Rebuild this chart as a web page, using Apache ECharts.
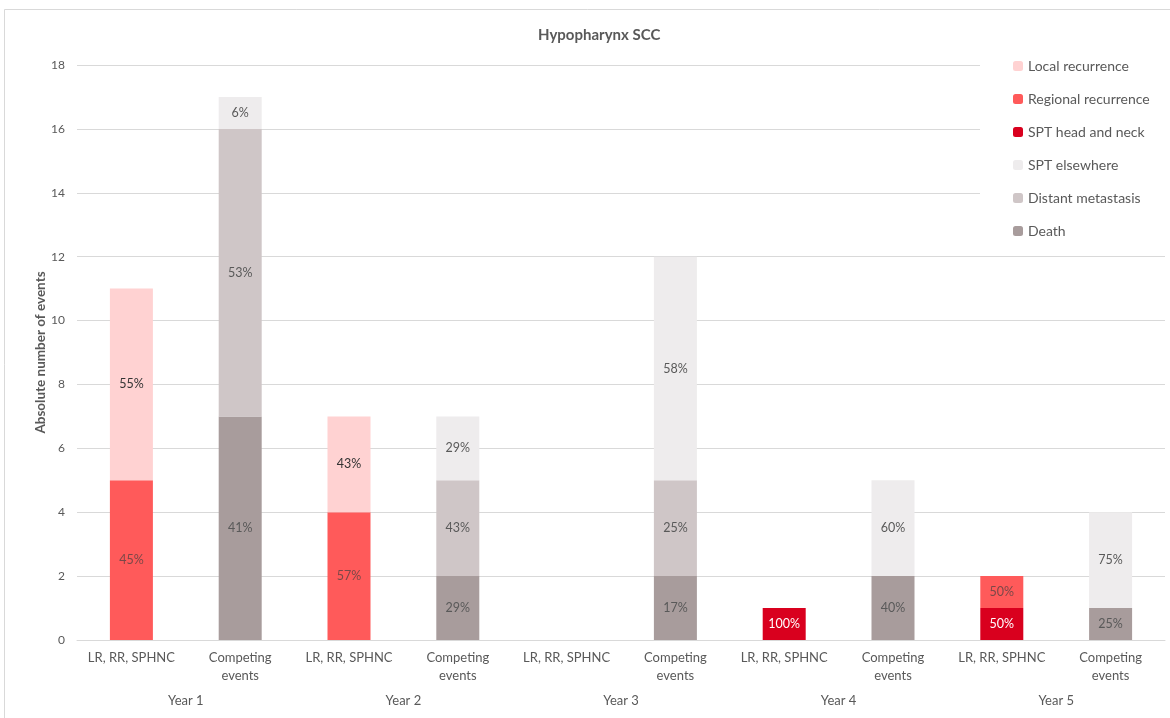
<!DOCTYPE html>
<html>
<head>
<meta charset="utf-8">
<script src="https://cdn.jsdelivr.net/npm/echarts@6/dist/echarts.min.js"></script>
<style>
  html, body { margin: 0; padding: 0; background: #fff; }
  #main { width: 1170px; height: 718px; }
</style>
</head>
<body>
<div id="main"></div>
<script>
var categories = ['LR, RR, SPHNC', 'Competing\nevents', 'LR, RR, SPHNC', 'Competing\nevents', 'LR, RR, SPHNC',
                  'Competing\nevents', 'LR, RR, SPHNC', 'Competing\nevents', 'LR, RR, SPHNC', 'Competing\nevents'];
var years = ['Year 1', 'Year 2', 'Year 3', 'Year 4', 'Year 5'];

// absolute number of events per bar (stacked bottom-up: death ... local)
var death        = [0, 7, 0, 2, 0, 2, 0, 2, 0, 1];
var distantMeta  = [0, 9, 0, 3, 0, 3, 0, 0, 0, 0];
var sptElsewhere = [0, 1, 0, 2, 0, 7, 0, 3, 0, 3];
var sptHeadNeck  = [0, 0, 0, 0, 0, 0, 1, 0, 1, 0];
var regionalRec  = [5, 0, 4, 0, 0, 0, 0, 0, 1, 0];
var localRec     = [6, 0, 3, 0, 0, 0, 0, 0, 0, 0];

var totals = categories.map(function (c, i) {
  return death[i] + distantMeta[i] + sptElsewhere[i] + sptHeadNeck[i] + regionalRec[i] + localRec[i];
});

function pct(p) {
  if (!p.value) return '';
  return Math.round(p.value / totals[p.dataIndex] * 100) + '%';
}

function makeSeries(name, data, color, labelColor) {
  return {
    name: name,
    type: 'bar',
    stack: 'events',
    barWidth: 43,
    data: data,
    itemStyle: { color: color },
    label: {
      show: true,
      position: 'inside',
      formatter: pct,
      color: labelColor,
      fontSize: 12.5,
      fontFamily: 'Lato'
    }
  };
}

var myChart = echarts.init(document.getElementById('main'));
var option = {
  backgroundColor: '#fff',
  textStyle: { fontFamily: 'Lato' },
  graphic: [{
    type: 'rect',
    shape: { x: 4.5, y: 9.5, width: 1180, height: 730 },
    style: { fill: 'none', stroke: '#d9d9d9', lineWidth: 1 },
    z: -10
  }],
  title: {
    text: 'Hypopharynx SCC',
    left: 533,
    top: 23,
    textStyle: { fontSize: 15, fontWeight: 'bold', color: '#595959', fontFamily: 'Lato' }
  },
  legend: {
    orient: 'vertical',
    left: 980,
    top: 52,
    backgroundColor: '#fff',
    padding: [7, 20, 14, 33],
    itemWidth: 10,
    itemHeight: 10,
    itemGap: 19,
    z: 10,
    textStyle: { fontSize: 14, color: '#595959', fontFamily: 'Lato' },
    data: ['Local recurrence', 'Regional recurrence', 'SPT head and neck', 'SPT elsewhere', 'Distant metastasis', 'Death']
  },
  grid: { left: 77, right: 5, top: 65, bottom: 78 },
  xAxis: [{
    type: 'category',
    data: categories,
    axisLine: { lineStyle: { color: '#d9d9d9' } },
    axisTick: { show: false },
    axisLabel: { color: '#595959', fontSize: 13, lineHeight: 18, margin: 9, interval: 0 }
  }, {
    type: 'category',
    data: years,
    position: 'bottom',
    axisLine: { show: false },
    axisTick: { show: false },
    splitLine: { show: false },
    axisLabel: { color: '#595959', fontSize: 13, margin: 54, interval: 0 }
  }],
  yAxis: {
    type: 'value',
    min: 0,
    max: 18,
    interval: 2,
    name: 'Absolute number of events',
    nameLocation: 'middle',
    nameGap: 29,
    nameMoveOverlap: false,
    nameTextStyle: { color: '#595959', fontSize: 13.5, fontWeight: 'bold' },
    axisLine: { show: false },
    axisTick: { show: false },
    axisLabel: { color: '#595959', fontSize: 12, margin: 12 },
    splitLine: { lineStyle: { color: '#d9d9d9' } }
  },
  series: [
    makeSeries('Death', death, '#a89c9c', '#595959'),
    makeSeries('Distant metastasis', distantMeta, '#cfc6c7', '#595959'),
    makeSeries('SPT elsewhere', sptElsewhere, '#eeeced', '#595959'),
    makeSeries('SPT head and neck', sptHeadNeck, '#d9001e', '#ffffff'),
    makeSeries('Regional recurrence', regionalRec, '#ff5a5a', '#7a4848'),
    makeSeries('Local recurrence', localRec, '#ffd2d2', '#333333')
  ]
};
myChart.setOption(option);
</script>
</body>
</html>
